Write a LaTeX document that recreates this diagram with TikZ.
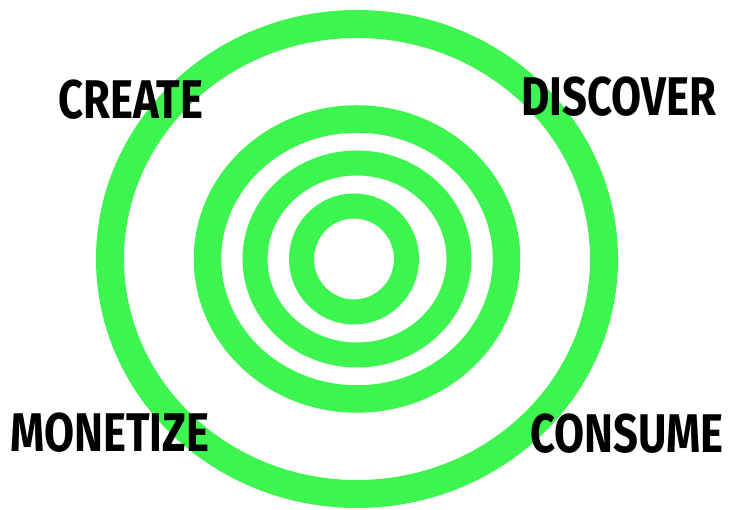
\documentclass[tikz,border=0pt]{standalone}
\usepackage{fontspec}
\usepackage{xcolor}
\usepackage{tikz}
\newfontfamily\lblfont[FakeStretch=0.8]{Fira Sans Bold}
\definecolor{ringgreen}{RGB}{61,245,79}

\begin{document}
\begin{tikzpicture}[
  ring/.style={draw=ringgreen, line width=#1},
  lbl/.style={font=\lblfont\fontsize{31}{31}\selectfont, inner sep=0pt, text=black}
]
\useasboundingbox (0,0) rectangle (14.58,10.2);

% centre of the target
\coordinate (mid) at (7.14,5.02);

%--------------------------------------------------
% rings, outside in
%--------------------------------------------------
\draw[ring=0.56cm] (mid) ellipse [x radius=4.94cm, y radius=4.70cm];
\draw[ring=0.55cm] (mid) ellipse [x radius=2.99cm, y radius=2.80cm];
\draw[ring=0.50cm] (mid) ellipse [x radius=2.04cm, y radius=1.92cm];
\draw[ring=0.50cm] ([xshift=-0.06cm]mid) ellipse [x radius=1.05cm, y radius=1.06cm];

%--------------------------------------------------
% corner labels
%--------------------------------------------------
\node[lbl] (create)   at (2.62,8.21)  {CREATE};
\node[lbl] (discover) at (12.37,8.27) {DISCOVER};
\node[lbl] (monetize) at (2.20,1.54)  {MONETIZE};
\node[lbl] (consume)  at (12.54,1.52) {CONSUME};

\end{tikzpicture}
\end{document}
